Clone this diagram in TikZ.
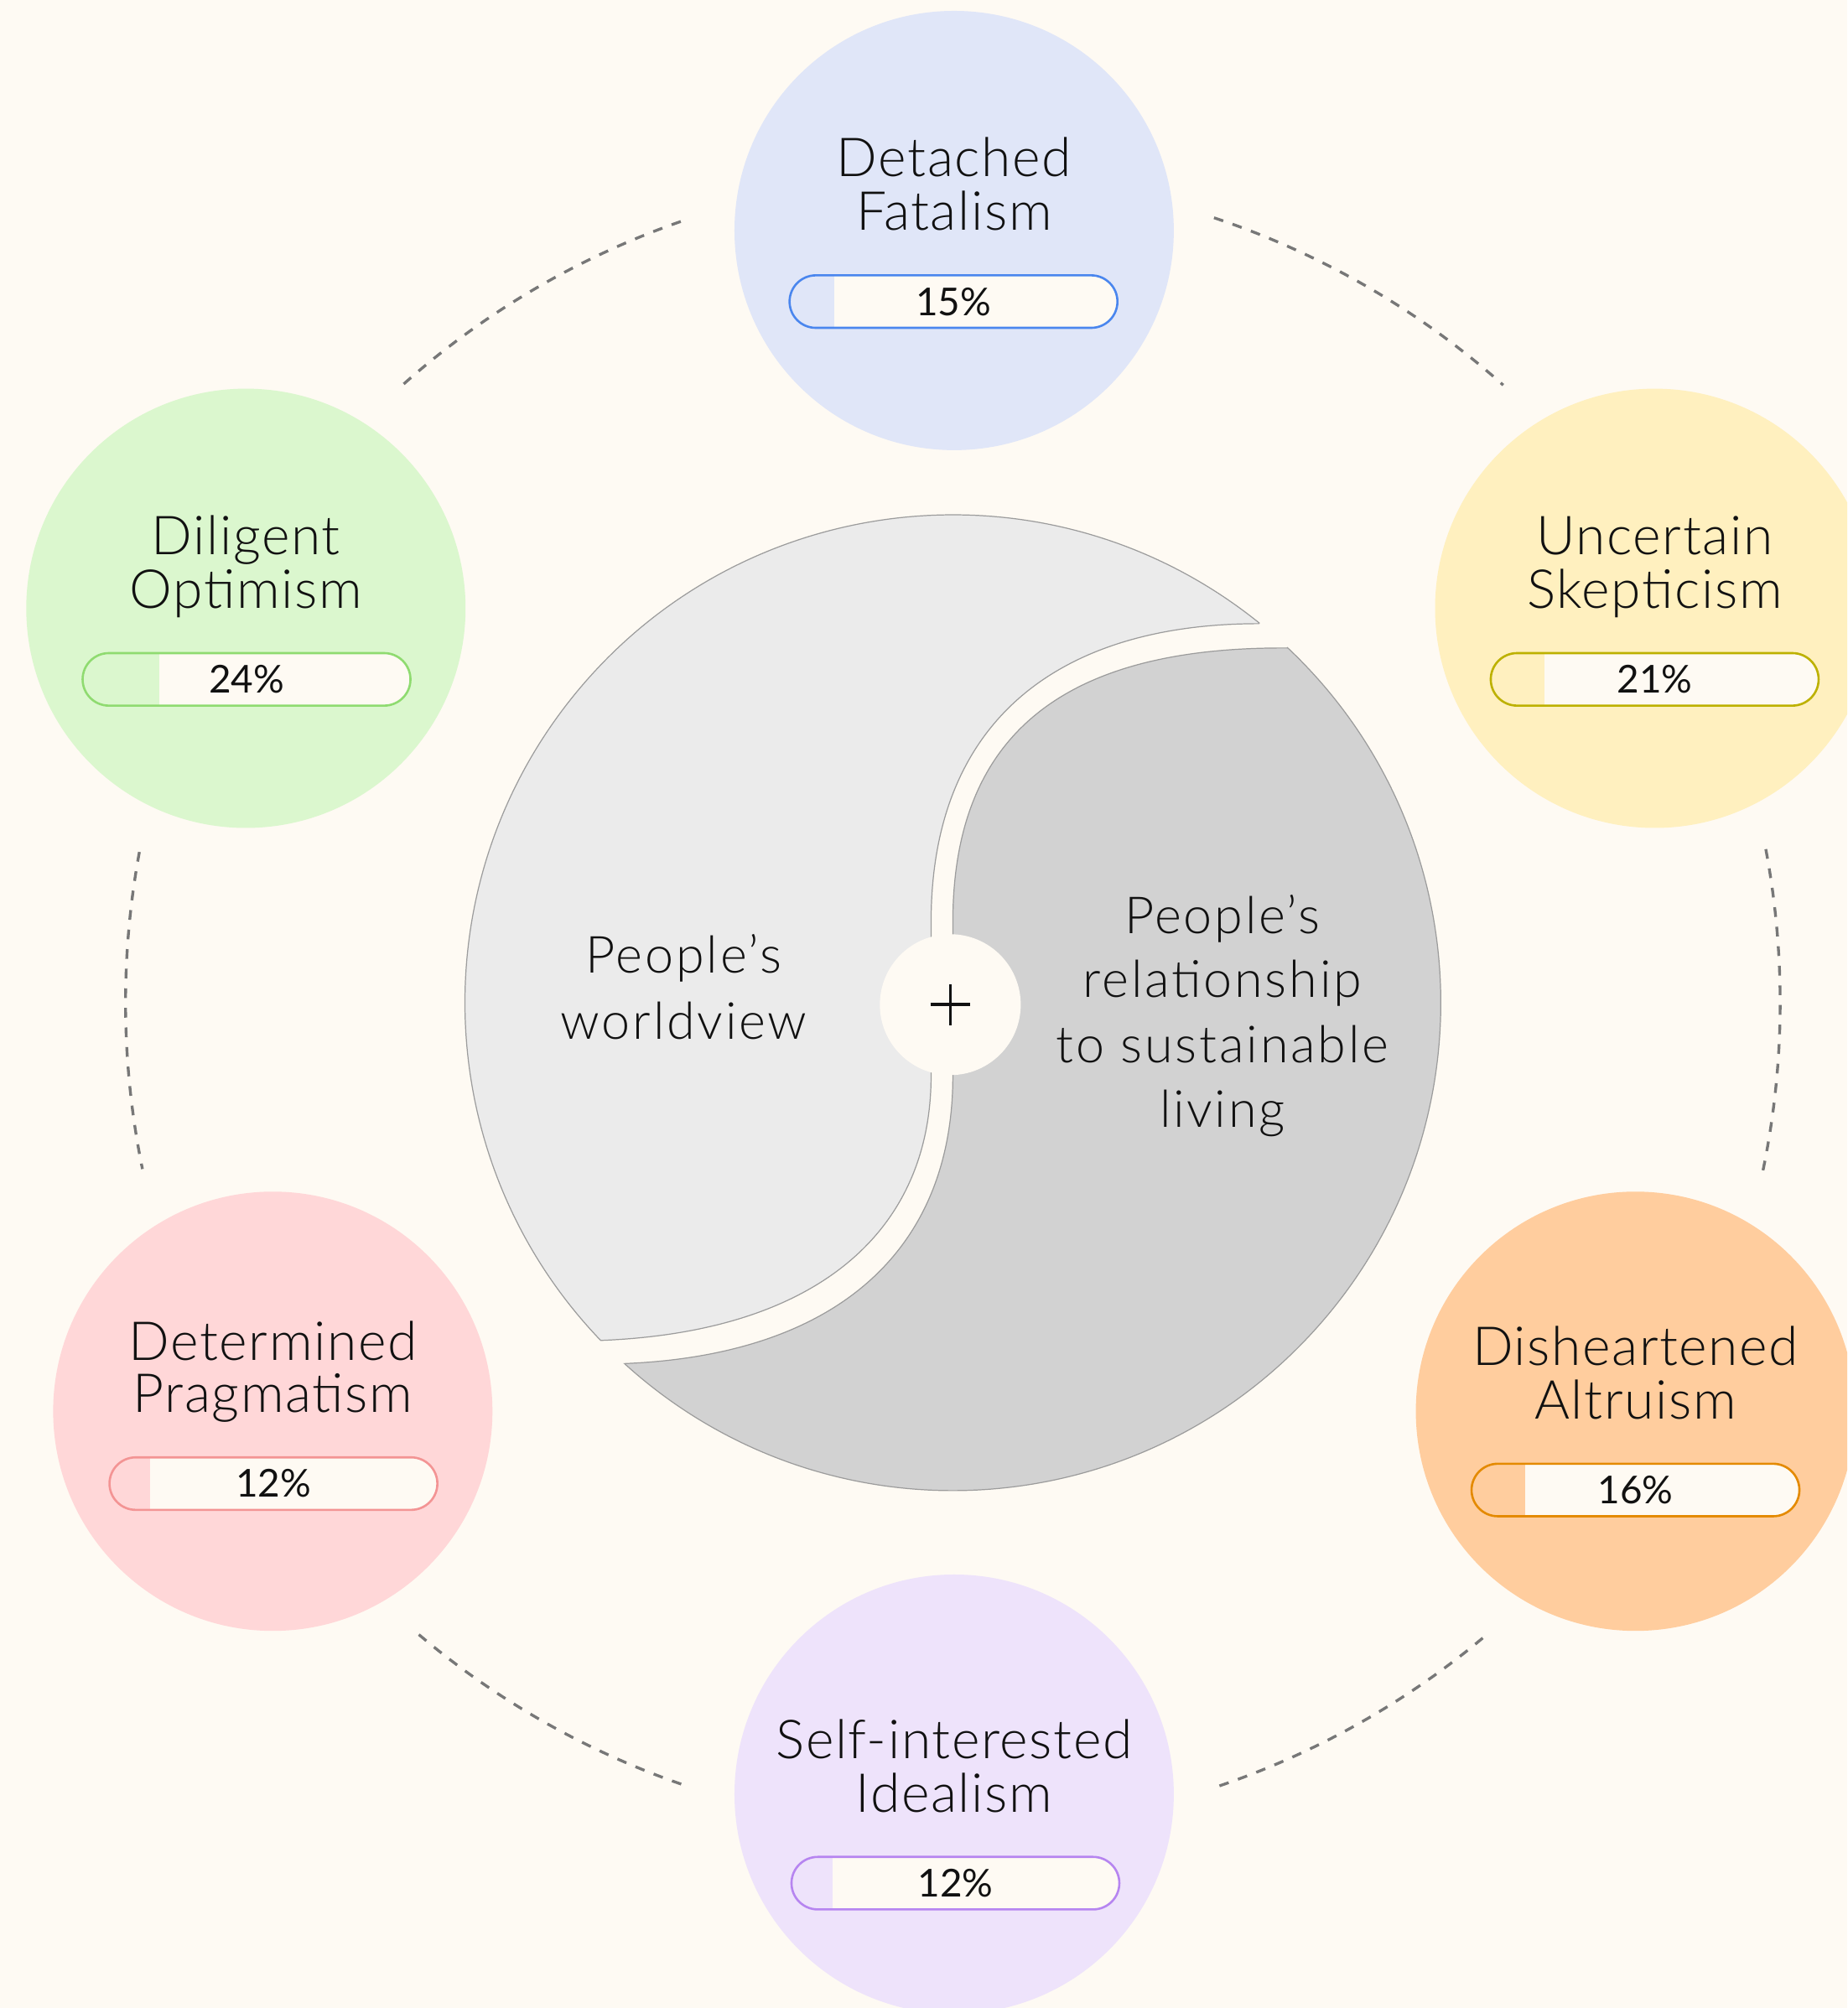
\documentclass[tikz,border=0pt]{standalone}
\usepackage{fontspec}
\setmainfont{Lato}[UprightFont=* Light]
\newfontfamily\ttlfont{Lato}[UprightFont=* Light, LetterSpace=2.5]
\newfontfamily\bodyfont{Lato}[UprightFont=* Light, LetterSpace=4.5]
\newfontfamily\pctfont{Lato}
\usetikzlibrary{shapes.misc,calc}
\definecolor{bgc}{HTML}{FEFAF3}
\definecolor{ink}{HTML}{111111}
\definecolor{cBlue}{HTML}{E0E6F8}\definecolor{lBlue}{HTML}{4A86EE}
\definecolor{cYel}{HTML}{FFF0BF}\definecolor{lYel}{HTML}{BDB100}
\definecolor{cGrn}{HTML}{DBF7CE}\definecolor{lGrn}{HTML}{8FDB70}
\definecolor{cRed}{HTML}{FFD7D8}\definecolor{lRed}{HTML}{F39494}
\definecolor{cOra}{HTML}{FFCD9E}\definecolor{lOra}{HTML}{E48A00}
\definecolor{cPur}{HTML}{EEE3FB}\definecolor{lPur}{HTML}{B685F0}
\definecolor{leftc}{HTML}{EBEBEB}
\definecolor{rightc}{HTML}{D2D2D2}
\definecolor{edge}{HTML}{9C9C9C}
\definecolor{dashc}{HTML}{777777}
\begin{document}
\begin{tikzpicture}[x=1pt,y=-1pt,
  persona/.style={circle, minimum size=343pt, inner sep=0pt, draw=none, fill=#1},
  ttl/.style={anchor=base, inner sep=0pt, text=ink, font=\ttlfont\fontsize{42}{42}\selectfont},
  body/.style={anchor=base, inner sep=0pt, text=ink, font=\bodyfont\fontsize{40}{40}\selectfont},
  pbar/.style n args={3}{rounded rectangle, minimum width=256pt, minimum height=41pt, inner sep=0pt,
     draw=#1, line width=1.7pt, fill=bgc, text=ink, font=\pctfont\fontsize{30}{30}\selectfont,
     path picture={\fill[#2] ([xshift=-3pt]path picture bounding box.south west) rectangle ([xshift=#3]path picture bounding box.north west);}},
  piece/.style={draw=edge, line width=0.8pt},
  dasharc/.style={draw=dashc, line width=2.2pt, dash pattern=on 7.6pt off 7.7pt},
  plusline/.style={draw=ink, line width=2.4pt}]
\useasboundingbox (0,0) rectangle (1442.3,1568);
\clip (0,0) rectangle (1442.3,1568);
\fill[bgc] (0,0) rectangle (1442.3,1568);

% dashed ring
\coordinate (O) at (744,783);
\draw[dasharc] (O) ++(-109.2:646) arc[start angle=-109.2, end angle=-131.9, radius=646];
\draw[dasharc] (O) ++(-71.6:646) arc[start angle=-71.6, end angle=-48.3, radius=646];
\draw[dasharc] (O) ++(-169.5:646) arc[start angle=-169.5, end angle=-191.6, radius=646];
\draw[dasharc] (O) ++(-10.7:646) arc[start angle=-10.7, end angle=11.8, radius=646];
\draw[dasharc] (O) ++(130.2:646) arc[start angle=130.2, end angle=108.7, radius=646];
\draw[dasharc] (O) ++(71.2:646) arc[start angle=71.2, end angle=49.6, radius=646];

% central circle pieces
\draw[piece, fill=leftc] (O) ++(-51.1:381) arc[start angle=-51.1, end angle=-223.8, radius=381]
  .. controls (640,1040) and (727,960) .. (727,840) -- (727,720)
  .. controls (727,560) and (830,487) .. (983,487) -- cycle;
\draw[piece, fill=rightc] (O) ++(-46.7:381) arc[start angle=-46.7, end angle=132.3, radius=381]
  .. controls (655,1058) and (744,975) .. (744,840) -- (744,720)
  .. controls (744,570) and (835,505) .. (1005,506) -- cycle;
\node[circle, minimum size=110pt, inner sep=0pt, fill=bgc] (plus) at (742,784.5) {};
\draw[plusline] ([xshift=-15.5pt]plus.center) -- ([xshift=15.5pt]plus.center);
\draw[plusline] ([yshift=-16pt]plus.center) -- ([yshift=16pt]plus.center);

\node[body] (w1) at (534,760) {People’s};
\node[body] (w2) at (534,811.5) {worldview};
\node[body] (r1) at (954.5,729) {People’s};
\node[body] (r2) at (954.5,779) {relationship};
\node[body] (r3) at (954.5,829.5) {to sustainable};
\node[body] (r4) at (954.5,880) {living};

% Detached Fatalism
\node[persona=cBlue] (df) at (745,180) {};
\node[ttl] (df1) at (745,138) {Detached};
\node[ttl] (df2) at (745,180) {Fatalism};
\node[pbar={lBlue}{cBlue}{35pt}] (dfb) at (744.5,235.5) {15\%};

% Uncertain Skepticism
\node[persona=cYel] (us) at (1292,475) {};
\node[ttl] (us1) at (1292,433) {Uncertain};
\node[ttl] (us2) at (1292,475) {Skepticism};
\node[pbar={lYel}{cYel}{42pt}] (usb) at (1292,530.5) {21\%};

% Diligent Optimism
\node[persona=cGrn] (do) at (192,475) {};
\node[ttl] (do1) at (192,433) {Diligent};
\node[ttl] (do2) at (192,475) {Optimism};
\node[pbar={lGrn}{cGrn}{60pt}] (dob) at (192.5,530.5) {24\%};

% Determined Pragmatism
\node[persona=cRed] (dp) at (213,1102) {};
\node[ttl] (dp1) at (213,1062) {Determined};
\node[ttl] (dp2) at (213,1103) {Pragmatism};
\node[pbar={lRed}{cRed}{32pt}] (dpb) at (213.5,1158.5) {12\%};

% Disheartened Altruism
\node[persona=cOra] (da) at (1277,1102) {};
\node[ttl] (da1) at (1277,1066) {Disheartened};
\node[ttl] (da2) at (1277,1108) {Altruism};
\node[pbar={lOra}{cOra}{42pt}] (dab) at (1277,1163.5) {16\%};

% Self-interested Idealism
\node[persona=cPur] (si) at (745,1401) {};
\node[ttl] (si1) at (745,1373) {Self-interested};
\node[ttl] (si2) at (745,1415) {Idealism};
\node[pbar={lPur}{cPur}{32pt}] (sib) at (746,1470.5) {12\%};
\end{tikzpicture}
\end{document}
